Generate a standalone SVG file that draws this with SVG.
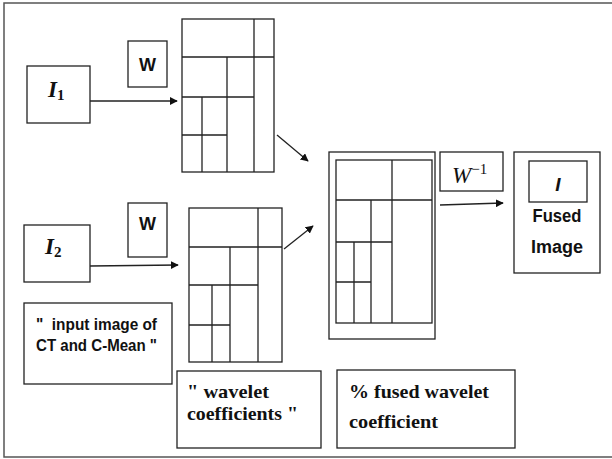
<svg xmlns="http://www.w3.org/2000/svg" width="612" height="459" viewBox="0 0 612 459">
<defs>
<style>
.box{fill:#fff;stroke:#222;stroke-width:1.3}
.ln{fill:none;stroke:#222;stroke-width:1.3}
.frame{fill:#fff;stroke:#555;stroke-width:1.5}
.sans{font-family:"Liberation Sans",Arial,sans-serif;font-weight:bold;fill:#111}
.serif{font-family:"Liberation Serif","Times New Roman",serif;font-weight:bold;fill:#111}
.conn{fill:none;stroke:#222;stroke-width:1.3;marker-end:url(#ah)}
</style>
<marker id="ah" viewBox="0 0 10 10" refX="9" refY="5" markerWidth="8" markerHeight="8" markerUnits="userSpaceOnUse" orient="auto">
<path d="M0,0 L10,5 L0,10 z" fill="#111"/>
</marker>
</defs>
<rect class="frame" x="4" y="3" width="612" height="454"/>

<g id="I1">
<rect class="box" x="27" y="66" width="63" height="57"/>
<text class="serif" x="48" y="97" font-size="23" font-style="italic">I<tspan font-size="15" font-style="normal" dy="3">1</tspan></text>
</g>
<g id="W1">
<rect class="box" x="128" y="41" width="39" height="46"/>
<text class="sans" x="147.5" y="71" font-size="18" text-anchor="middle" textLength="17" lengthAdjust="spacingAndGlyphs">W</text>
</g>
<g id="grid1">
<rect class="box" x="182" y="19" width="92" height="153"/>
<path class="ln" d="M182,57 H274 M254,19 V172 M227,57 V172 M182,97 H254 M202,97 V172 M182,135 H227"/>
</g>

<g id="I2">
<rect class="box" x="24" y="225" width="66" height="57"/>
<text class="serif" x="45" y="254" font-size="23" font-style="italic">I<tspan font-size="15" font-style="normal" dy="3">2</tspan></text>
</g>
<g id="W2">
<rect class="box" x="128" y="203" width="39" height="54"/>
<text class="sans" x="147.5" y="230" font-size="18" text-anchor="middle" textLength="17" lengthAdjust="spacingAndGlyphs">W</text>
</g>
<g id="grid2">
<rect class="box" x="189" y="208" width="93" height="154"/>
<path class="ln" d="M189,247 H282 M258,208 V362 M230,247 V362 M189,285 H258 M212,285 V362 M189,325 H230"/>
</g>

<g id="fusedgrid">
<rect class="box" x="329" y="152" width="106" height="187"/>
<rect class="box" x="336" y="160" width="96" height="163"/>
<path class="ln" d="M336,200 H432 M392,160 V323 M371,200 V323 M336,242 H392 M354,242 V323 M336,282 H371"/>
</g>

<g id="Winv">
<rect class="box" x="440" y="152" width="63" height="39"/>
<text x="452" y="183" font-family="'Liberation Serif','Times New Roman',serif" font-style="italic" font-size="23" fill="#111">W<tspan font-style="normal" font-size="15" dy="-9">−1</tspan></text>
</g>

<g id="fused">
<rect class="box" x="514" y="152" width="86" height="121"/>
<rect class="box" x="529" y="161" width="58" height="41"/>
<text class="sans" x="558" y="191" font-size="19" font-style="italic" text-anchor="middle">I</text>
<text class="sans" x="557" y="222" font-size="18" text-anchor="middle" textLength="49" lengthAdjust="spacingAndGlyphs">Fused</text>
<text class="sans" x="557" y="253" font-size="18" text-anchor="middle" textLength="52" lengthAdjust="spacingAndGlyphs">Image</text>
</g>

<g id="label-input">
<rect class="box" x="24" y="303" width="148" height="81"/>
<text class="sans" x="36" y="330" font-size="16" textLength="121" lengthAdjust="spacingAndGlyphs" xml:space="preserve">"  input image of</text>
<text class="sans" x="36" y="351" font-size="16" textLength="121" lengthAdjust="spacingAndGlyphs">CT and C-Mean "</text>
</g>

<g id="label-wavelet">
<rect class="box" x="177" y="371" width="144" height="77"/>
<text class="serif" x="187" y="398" font-size="19" textLength="82" lengthAdjust="spacingAndGlyphs">" wavelet</text>
<text class="serif" x="187" y="420" font-size="19" textLength="111" lengthAdjust="spacingAndGlyphs">coefficients "</text>
</g>

<g id="label-fused">
<rect class="box" x="337" y="370" width="178" height="78"/>
<text class="serif" x="349" y="398" font-size="19" textLength="140" lengthAdjust="spacingAndGlyphs">% fused wavelet</text>
<text class="serif" x="349" y="428" font-size="19" textLength="89" lengthAdjust="spacingAndGlyphs">coefficient</text>
</g>

<g id="connectors">
<line class="conn" x1="90" y1="101" x2="177" y2="101"/>
<line class="conn" x1="90" y1="266" x2="178" y2="265"/>
<line class="conn" x1="277" y1="135" x2="308" y2="161"/>
<line class="conn" x1="284" y1="249" x2="313" y2="226"/>
<line class="conn" x1="440" y1="205" x2="503" y2="203"/>
</g>
</svg>
